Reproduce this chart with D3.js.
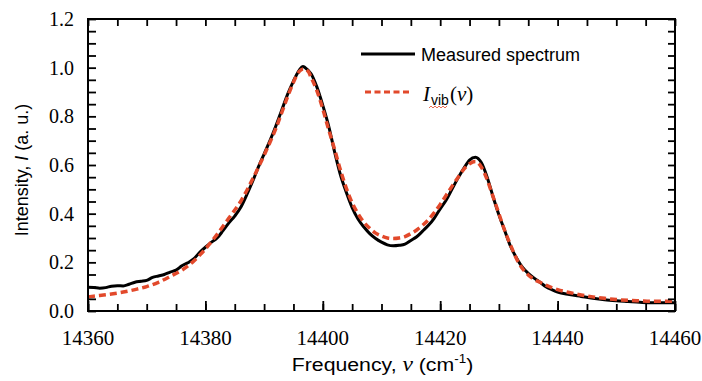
<!DOCTYPE html>
<html>
<head>
<meta charset="utf-8">
<script src="https://cdn.jsdelivr.net/npm/d3@7"></script>
<style>
  body { margin: 0; background: #fff; }
  svg { display: block; }
</style>
</head>
<body>
<svg id="chart" width="702" height="381"></svg>
<script>
// measured spectrum
const freqMeasured = [14360, 14361, 14362, 14363, 14364, 14365, 14366, 14367, 14368, 14369,
  14370, 14371, 14372, 14373, 14374, 14375, 14376, 14377, 14378, 14379,
  14380, 14381, 14382, 14383, 14384, 14385, 14386, 14387, 14388, 14389,
  14390, 14391, 14392, 14393, 14394, 14395, 14396, 14396.6, 14397, 14398, 14399,
  14400, 14401, 14402, 14403, 14404, 14405, 14406, 14407, 14408, 14409,
  14410, 14411, 14412, 14413, 14414, 14415, 14416, 14417, 14418, 14419,
  14420, 14421, 14422, 14423, 14424, 14425, 14426, 14427, 14428, 14429,
  14430, 14431, 14432, 14433, 14434, 14435, 14436, 14437, 14438, 14439,
  14440, 14442, 14444, 14446, 14448, 14450, 14452, 14454, 14456, 14458, 14460]
const intMeasured = [0.098, 0.097, 0.094, 0.096, 0.102, 0.104, 0.103, 0.110, 0.118, 0.122,
  0.126, 0.138, 0.144, 0.150, 0.160, 0.168, 0.186, 0.198, 0.214, 0.240,
  0.262, 0.282, 0.300, 0.330, 0.362, 0.390, 0.425, 0.475, 0.530, 0.590,
  0.645, 0.700, 0.760, 0.825, 0.890, 0.945, 0.990, 1.005, 1.000, 0.975, 0.920,
  0.845, 0.760, 0.655, 0.560, 0.488, 0.425, 0.378, 0.345, 0.318, 0.298,
  0.283, 0.272, 0.268, 0.270, 0.275, 0.290, 0.305, 0.328, 0.352, 0.382,
  0.420, 0.455, 0.500, 0.545, 0.585, 0.620, 0.632, 0.610, 0.550, 0.470,
  0.395, 0.330, 0.265, 0.218, 0.180, 0.155, 0.135, 0.118, 0.100, 0.088,
  0.078, 0.068, 0.060, 0.052, 0.046, 0.042, 0.039, 0.036, 0.034, 0.034, 0.034]

// fitted I_vib(nu)
const freqFit = [14360, 14362, 14364, 14366, 14368, 14370, 14372, 14374, 14376, 14378,
  14380, 14382, 14384, 14386, 14388, 14390, 14392, 14394, 14395, 14396, 14396.7, 14397.5,
  14398, 14399, 14400, 14401, 14402, 14403, 14404, 14405, 14406, 14407, 14408, 14409,
  14410, 14411, 14412, 14413, 14414, 14415, 14416, 14417, 14418, 14419,
  14420, 14421, 14422, 14423, 14424, 14425, 14426, 14427, 14428, 14429,
  14430, 14431, 14432, 14433, 14434, 14435, 14436, 14437, 14438, 14439,
  14440, 14442, 14444, 14446, 14448, 14450, 14452, 14454, 14456, 14458, 14460]
const intFit = [0.058, 0.064, 0.070, 0.078, 0.088, 0.100, 0.118, 0.142, 0.168, 0.205,
  0.255, 0.315, 0.382, 0.450, 0.540, 0.640, 0.750, 0.880, 0.940, 0.985, 0.995, 0.985,
  0.960, 0.905, 0.830, 0.745, 0.665, 0.580, 0.505, 0.445, 0.400, 0.365, 0.340, 0.320,
  0.308, 0.300, 0.298, 0.300, 0.306, 0.318, 0.333, 0.352, 0.375, 0.405,
  0.438, 0.475, 0.512, 0.548, 0.582, 0.605, 0.614, 0.592, 0.540, 0.470,
  0.400, 0.330, 0.270, 0.215, 0.175, 0.148, 0.130, 0.118, 0.106, 0.096,
  0.088, 0.076, 0.066, 0.058, 0.052, 0.047, 0.044, 0.042, 0.040, 0.040, 0.040]

const xMajor = [14360, 14380, 14400, 14420, 14440, 14460]
const xMinor = d3.range(14360, 14461, 5)
const yMajor = [0, 0.2, 0.4, 0.6, 0.8, 1.0, 1.2]
const yMinor = d3.range(0, 1.2001, 0.05)

const red = '#e2492b'
const width = 702, height = 381
const margin = {top: 19, right: 27, bottom: 70, left: 88}

const svg = d3.select('#chart')

const x = d3.scaleLinear()
  .domain([14360, 14460])
  .range([margin.left, width - margin.right])
const y = d3.scaleLinear()
  .domain([0, 1.2])
  .range([height - margin.bottom, margin.top])

const serif = '"Liberation Serif", "Times New Roman", serif'
const sans = '"Liberation Sans", Arial, sans-serif'

// lines
const line = d3.line()
  .x(d => x(d[0]))
  .y(d => y(d[1]))
  .curve(d3.curveMonotoneX)

svg.append('path')
  .datum(d3.zip(freqMeasured, intMeasured))
  .attr('d', line)
  .attr('fill', 'none')
  .attr('stroke', '#000')
  .attr('stroke-width', 3)
  .attr('stroke-linejoin', 'round')

svg.append('path')
  .datum(d3.zip(freqFit, intFit))
  .attr('d', line)
  .attr('fill', 'none')
  .attr('stroke', red)
  .attr('stroke-width', 3.5)
  .attr('stroke-dasharray', '7,4')

// axes: ticks point inward, labels drawn separately
function styleAxis(g) {
  g.select('.domain').remove()
  g.selectAll('line').attr('stroke', '#000').attr('stroke-width', 1.8)
  g.selectAll('text').remove()
}

const yB = height - margin.bottom

svg.append('g')
  .attr('transform', `translate(0,${yB})`)
  .call(d3.axisBottom(x).tickValues(xMinor).tickSize(-7))
  .call(styleAxis)

svg.append('g')
  .attr('transform', `translate(0,${yB})`)
  .call(d3.axisBottom(x).tickValues(xMajor).tickSize(-10))
  .call(styleAxis)

svg.append('g')
  .attr('transform', `translate(0,${margin.top})`)
  .call(d3.axisTop(x).tickValues(xMinor).tickSize(-7))
  .call(styleAxis)

svg.append('g')
  .attr('transform', `translate(${margin.left},0)`)
  .call(d3.axisLeft(y).tickValues(yMinor).tickSize(-8))
  .call(styleAxis)

svg.append('g')
  .attr('transform', `translate(${width - margin.right},0)`)
  .call(d3.axisRight(y).tickValues(yMinor).tickSize(-7))
  .call(styleAxis)

// tick labels
svg.append('g')
  .selectAll('text')
  .data(xMajor)
  .join('text')
  .attr('x', d => x(d))
  .attr('y', 345)
  .attr('text-anchor', 'middle')
  .attr('font-family', serif)
  .attr('font-size', 21)
  .attr('fill', '#000')
  .text(d3.format('d'))

svg.append('g')
  .selectAll('text')
  .data(yMajor)
  .join('text')
  .attr('x', 74)
  .attr('y', d => y(d) + 7)
  .attr('text-anchor', 'end')
  .attr('font-family', serif)
  .attr('font-size', 20)
  .attr('fill', '#000')
  .text(d3.format('.1f'))

// frame
svg.append('rect')
  .attr('x', margin.left)
  .attr('y', margin.top)
  .attr('width', width - margin.left - margin.right)
  .attr('height', height - margin.top - margin.bottom)
  .attr('fill', 'none')
  .attr('stroke', '#000')
  .attr('stroke-width', 2)

// axis titles
const xt = svg.append('text')
  .attr('transform', `translate(${(margin.left + width - margin.right) / 2 + 1},371) scale(1.12,1)`)
  .attr('text-anchor', 'middle')
  .attr('font-family', sans)
  .attr('font-size', 19)
  .attr('fill', '#000')
xt.append('tspan').text('Frequency, ')
xt.append('tspan').attr('font-family', serif).attr('font-style', 'italic').attr('font-size', 21).text('ν')
xt.append('tspan').text(' (cm')
xt.append('tspan').attr('font-size', 12).attr('dy', -8).text('-1')
xt.append('tspan').attr('dy', 8).text(')')

const yt = svg.append('text')
  .attr('transform', 'translate(28,170) rotate(-90)')
  .attr('text-anchor', 'middle')
  .attr('font-family', sans)
  .attr('font-size', 18)
  .attr('fill', '#000')
yt.append('tspan').text('Intensity, ')
yt.append('tspan').attr('font-style', 'italic').text('I')
yt.append('tspan').text(' (a. u.)')

// legend
const legend = svg.append('g')

legend.append('line')
  .attr('x1', 361).attr('x2', 415)
  .attr('y1', 54).attr('y2', 54)
  .attr('stroke', '#000')
  .attr('stroke-width', 3)

legend.append('text')
  .attr('x', 421)
  .attr('y', 61)
  .attr('font-family', sans)
  .attr('font-size', 18)
  .attr('fill', '#000')
  .text('Measured spectrum')

legend.append('line')
  .attr('x1', 365).attr('x2', 412)
  .attr('y1', 92).attr('y2', 92)
  .attr('stroke', red)
  .attr('stroke-width', 3)
  .attr('stroke-dasharray', '6,3.5')

const lt = legend.append('text')
  .attr('x', 423)
  .attr('y', 101)
  .attr('font-family', serif)
  .attr('font-size', 21)
  .attr('fill', '#000')
lt.append('tspan').attr('font-style', 'italic').text('I')
lt.append('tspan').attr('font-family', sans).attr('font-size', 14).attr('dy', 4).attr('dx', 1).text('vib')
lt.append('tspan').attr('dy', -4).attr('dx', 1).text('(')
lt.append('tspan').attr('font-style', 'italic').text('ν')
lt.append('tspan').text(')')

// spell-check squiggle under "vib"
const squiggle = d3.range(429, 449, 2).map((px, i) => [px, i % 2 ? 106 : 108])
legend.append('path')
  .attr('d', d3.line()(squiggle))
  .attr('fill', 'none')
  .attr('stroke', red)
  .attr('stroke-width', 0.8)
</script>
</body>
</html>
